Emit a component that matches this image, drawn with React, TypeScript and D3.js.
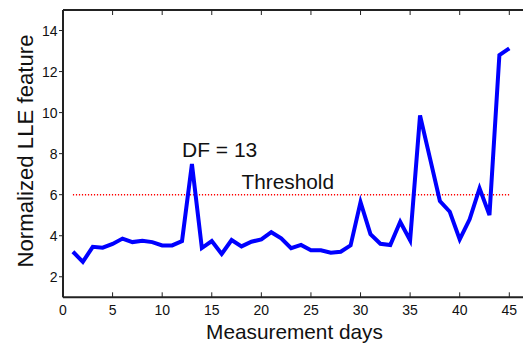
import React from "react";
import * as d3 from "d3";

const days: number[] = [
  1, 2, 3, 4, 5, 6, 7, 8, 9, 10, 11, 12, 13, 14, 15, 16, 17, 18, 19, 20, 21, 22, 23,
  24, 25, 26, 27, 28, 29, 30, 31, 32, 33, 34, 35, 36, 37, 38, 39, 40, 41, 42, 43, 44, 45,
];
const lleValues: number[] = [
  3.22, 2.73, 3.46, 3.42, 3.6, 3.86, 3.69, 3.76, 3.69, 3.53, 3.53, 3.74, 7.5, 3.4, 3.74,
  3.11, 3.79, 3.48, 3.71, 3.82, 4.17, 3.87, 3.39, 3.55, 3.29, 3.29, 3.17, 3.22, 3.53, 5.64,
  4.08, 3.61, 3.55, 4.68, 3.78, 9.86, 7.78, 5.69, 5.17, 3.82, 4.8, 6.31, 5.01, 12.8, 13.13,
];
const thresholdValue = 6;
const thresholdRange: number[] = [1, 45];
const xTicks: number[] = [0, 5, 10, 15, 20, 25, 30, 35, 40, 45];
const yTicks: number[] = [2, 4, 6, 8, 10, 12, 14];
const xLabel = "Measurement days";
const yLabel = "Normalized LLE feature";
const dfLabel = "DF = 13";
const thresholdLabel = "Threshold";

const W = 523;
const H = 345;
const left = 63;
const top = 10;
const bottom = 297.3;
const font = "'Liberation Sans', Arial, sans-serif";

export default function App() {
  const x = d3.scaleLinear().domain([0, 45]).range([left, 509.3]);
  const y = d3.scaleLinear().domain([1, 15]).range([bottom, top]);
  const line = d3
    .line<number>()
    .x((_, i) => x(days[i]))
    .y((d) => y(d));
  const data = lleValues;
  return (
    <svg
      width={W}
      height={H}
      style={{ position: "absolute", left: 0, top: 0, background: "#fff" }}
      fontFamily={font}
    >
      <rect x={0} y={0} width={W} height={H} fill="#fff" />
      {/* threshold */}
      <line
        x1={x(thresholdRange[0])}
        x2={x(thresholdRange[1])}
        y1={y(thresholdValue)}
        y2={y(thresholdValue)}
        stroke="#ff0000"
        strokeWidth={1.5}
        strokeDasharray="1.2 1.8"
      />
      {/* data line */}
      <path
        d={line(data) || ""}
        fill="none"
        stroke="#0000ff"
        strokeWidth={4}
        strokeLinejoin="miter"
      />
      {/* spines */}
      <line x1={left} x2={W} y1={top} y2={top} stroke="#222" strokeWidth={2} />
      <line x1={left} x2={W} y1={bottom} y2={bottom} stroke="#222" strokeWidth={2} />
      <line x1={left} x2={left} y1={top} y2={bottom} stroke="#222" strokeWidth={2} />
      {/* x ticks */}
      {xTicks.map((t) => (
        <g key={"xt" + t}>
          <line x1={x(t)} x2={x(t)} y1={bottom} y2={bottom - 5} stroke="#222" strokeWidth={1} />
          <line x1={x(t)} x2={x(t)} y1={top} y2={top + 5} stroke="#222" strokeWidth={1} />
          <text x={x(t)} y={315} textAnchor="middle" fontSize={14} fill="#111">
            {t}
          </text>
        </g>
      ))}
      {/* y ticks */}
      {yTicks.map((t) => (
        <g key={"yt" + t}>
          <line x1={left - 4} x2={left} y1={y(t)} y2={y(t)} stroke="#222" strokeWidth={1} />
          <text x={57.5} y={y(t) + 5} textAnchor="end" fontSize={14} fill="#111">
            {t}
          </text>
        </g>
      ))}
      {/* annotations */}
      <text x={182} y={157} fontSize={21} fill="#111">
        {dfLabel}
      </text>
      <text x={241.5} y={188.5} fontSize={20.8} fill="#111">
        {thresholdLabel}
      </text>
      {/* axis labels */}
      <text x={294.5} y={338.5} textAnchor="middle" fontSize={20.8} fill="#111">
        {xLabel}
      </text>
      <text
        transform={`translate(32.5,151) rotate(-90)`}
        textAnchor="middle"
        fontSize={22.2}
        fill="#111"
      >
        {yLabel}
      </text>
    </svg>
  );
}
